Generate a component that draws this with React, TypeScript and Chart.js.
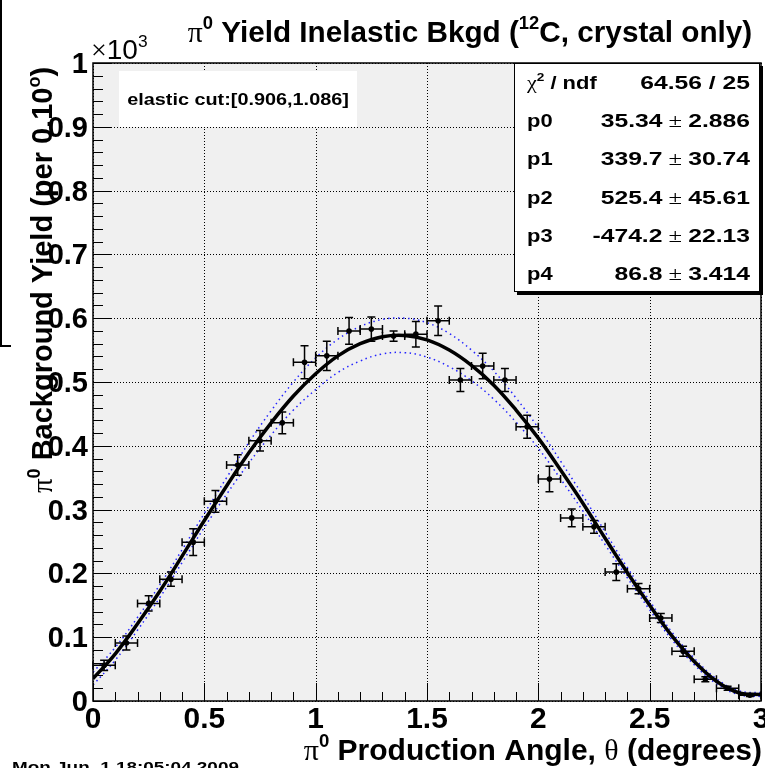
import React, { useEffect, useRef } from 'react';
import { Chart, registerables } from 'chart.js';
Chart.register(...registerables);

// ---- data (yield in units of 10^3) ----
const binCenters = [0.05, 0.15, 0.25, 0.35, 0.45, 0.55, 0.65, 0.75, 0.85, 0.95, 1.05, 1.15, 1.25, 1.35, 1.45, 1.55, 1.65, 1.75, 1.85, 1.95, 2.05, 2.15, 2.25, 2.35, 2.45, 2.55, 2.65, 2.75, 2.85, 2.95];
const yieldValues = [0.056, 0.091, 0.153, 0.191, 0.249, 0.313, 0.370, 0.408, 0.436, 0.531, 0.541, 0.580, 0.583, 0.572, 0.575, 0.596, 0.503, 0.525, 0.503, 0.430, 0.348, 0.287, 0.273, 0.202, 0.176, 0.130, 0.078, 0.034, 0.020, 0.009];
const yieldErrors = [0.008, 0.011, 0.012, 0.011, 0.021, 0.017, 0.016, 0.016, 0.017, 0.026, 0.023, 0.021, 0.019, 0.008, 0.020, 0.023, 0.018, 0.020, 0.018, 0.018, 0.020, 0.014, 0.010, 0.013, 0.008, 0.007, 0.008, 0.004, 0.003, 0.002];
const binHalfWidth = 0.05;

const fitX = [0, 0.1, 0.2, 0.3, 0.4, 0.5, 0.6, 0.7, 0.8, 0.9, 1.0, 1.1, 1.2, 1.3, 1.4, 1.5, 1.6, 1.7, 1.8, 1.9, 2.0, 2.1, 2.2, 2.3, 2.4, 2.5, 2.6, 2.7, 2.8, 2.9, 3.0];
const fitCurve = [0.035, 0.074, 0.121, 0.172, 0.227, 0.283, 0.337, 0.389, 0.436, 0.478, 0.513, 0.541, 0.560, 0.571, 0.573, 0.566, 0.550, 0.526, 0.495, 0.456, 0.412, 0.362, 0.310, 0.255, 0.201, 0.150, 0.102, 0.062, 0.031, 0.013, 0.010];
const bandUpper = [0.045, 0.084, 0.131, 0.182, 0.237, 0.294, 0.350, 0.405, 0.455, 0.500, 0.538, 0.567, 0.587, 0.598, 0.600, 0.593, 0.576, 0.550, 0.517, 0.475, 0.428, 0.376, 0.322, 0.265, 0.209, 0.157, 0.108, 0.067, 0.035, 0.016, 0.013];
const bandLower = [0.025, 0.064, 0.111, 0.162, 0.217, 0.272, 0.324, 0.373, 0.417, 0.456, 0.488, 0.515, 0.533, 0.544, 0.546, 0.539, 0.524, 0.502, 0.473, 0.437, 0.396, 0.348, 0.298, 0.245, 0.193, 0.143, 0.096, 0.057, 0.027, 0.010, 0.007];

const xTickValues = [0, 0.5, 1, 1.5, 2, 2.5, 3];
const xTickLabels = ['0', '0.5', '1', '1.5', '2', '2.5', '3'];
const yTickValues = [0, 0.1, 0.2, 0.3, 0.4, 0.5, 0.6, 0.7, 0.8, 0.9, 1];
const yTickLabels = ['0', '0.1', '0.2', '0.3', '0.4', '0.5', '0.6', '0.7', '0.8', '0.9', '1'];
const xMinorStep = 0.1;
const yMinorStep = 0.02;

const statsNames = ['χ2 / ndf', 'p0', 'p1', 'p2', 'p3', 'p4'];
const statsCentral = ['64.56 / 25', '35.34', '339.7', '525.4', '-474.2', '86.8'];
const statsErrors = ['', '2.886', '30.74', '45.61', '22.13', '3.414'];
const cutText = 'elastic cut:[0.906,1.086]';
const dateText = 'Mon Jun  1 18:05:04 2009';

type Seg = { t: string; sup?: boolean; sym?: boolean; normal?: boolean };

const SANS = '"Liberation Sans", Arial, sans-serif';
const SERIF = '"Liberation Serif", "DejaVu Serif", serif';

function segFont(s: Seg, size: number) {
  const sz = s.sup ? size * 0.62 : size;
  if (s.sym) return `${sz}px ${SERIF}`;
  if (s.normal) return `${sz}px ${SANS}`;
  return `bold ${sz}px ${SANS}`;
}

function drawRich(ctx: CanvasRenderingContext2D, segs: Seg[], x: number, y: number, size: number, align: 'left' | 'center' | 'right', sx = 1) {
  ctx.save();
  ctx.textBaseline = 'alphabetic';
  ctx.textAlign = 'left';
  let total = 0;
  const widths = segs.map((s) => {
    ctx.font = segFont(s, size);
    const w = ctx.measureText(s.t).width;
    total += w;
    return w;
  });
  let start = x;
  if (align === 'center') start = x - (total * sx) / 2;
  if (align === 'right') start = x - total * sx;
  ctx.translate(start, y);
  ctx.scale(sx, 1);
  let cx = 0;
  segs.forEach((s, i) => {
    ctx.font = segFont(s, size);
    ctx.fillText(s.t, cx, s.sup ? -size * 0.42 : 0);
    cx += widths[i];
  });
  ctx.restore();
}

const decorPlugin = {
  id: 'rootDecor',
  beforeDatasetsDraw(chart: any) {
    const { ctx, chartArea: a, scales } = chart;
    const xs = scales.x, ys = scales.y;
    ctx.save();
    ctx.fillStyle = '#f0f0f0';
    ctx.fillRect(a.left, a.top, a.right - a.left, a.bottom - a.top);
    // dotted grid
    ctx.strokeStyle = '#000';
    ctx.lineWidth = 1;
    ctx.setLineDash([1, 2]);
    xTickValues.forEach((v) => {
      const px = Math.round(xs.getPixelForValue(v)) + 0.5;
      ctx.beginPath(); ctx.moveTo(px, a.top); ctx.lineTo(px, a.bottom); ctx.stroke();
    });
    yTickValues.forEach((v) => {
      const py = Math.round(ys.getPixelForValue(v)) + 0.5;
      ctx.beginPath(); ctx.moveTo(a.left, py); ctx.lineTo(a.right, py); ctx.stroke();
    });
    ctx.restore();
  },
  afterDatasetsDraw(chart: any) {
    const { ctx, chartArea: a, scales } = chart;
    const xs = scales.x, ys = scales.y;
    ctx.save();
    // error bars
    ctx.strokeStyle = '#000';
    ctx.lineWidth = 1.5;
    ctx.setLineDash([]);
    binCenters.forEach((xv, i) => {
      const px = xs.getPixelForValue(xv);
      const py = ys.getPixelForValue(yieldValues[i]);
      const x0 = xs.getPixelForValue(xv - binHalfWidth);
      const x1 = xs.getPixelForValue(xv + binHalfWidth);
      const y0 = ys.getPixelForValue(yieldValues[i] - yieldErrors[i]);
      const y1 = ys.getPixelForValue(yieldValues[i] + yieldErrors[i]);
      const c = 4;
      ctx.beginPath();
      ctx.moveTo(x0, py); ctx.lineTo(x1, py);
      ctx.moveTo(x0, py - c); ctx.lineTo(x0, py + c);
      ctx.moveTo(x1, py - c); ctx.lineTo(x1, py + c);
      ctx.moveTo(px, y0); ctx.lineTo(px, y1);
      ctx.moveTo(px - c, y0); ctx.lineTo(px + c, y0);
      ctx.moveTo(px - c, y1); ctx.lineTo(px + c, y1);
      ctx.stroke();
    });
    // frame
    ctx.lineWidth = 1.5;
    ctx.strokeRect(a.left, a.top, a.right - a.left, a.bottom - a.top);
    // ticks
    ctx.lineWidth = 1;
    ctx.beginPath();
    for (let k = 0; k <= 30; k++) {
      const v = k * xMinorStep;
      const px = Math.round(xs.getPixelForValue(v)) + 0.5;
      const len = k % 5 === 0 ? 18 : 9;
      ctx.moveTo(px, a.bottom); ctx.lineTo(px, a.bottom - len);
    }
    for (let k = 0; k <= 50; k++) {
      const v = k * yMinorStep;
      const py = Math.round(ys.getPixelForValue(v)) + 0.5;
      const len = k % 5 === 0 ? 19 : 10;
      ctx.moveTo(a.left, py); ctx.lineTo(a.left + len, py);
    }
    ctx.stroke();
    // tick labels
    ctx.fillStyle = '#000';
    xTickValues.forEach((v, i) => {
      drawRich(ctx, [{ t: xTickLabels[i] }], xs.getPixelForValue(v), a.bottom + 27, 29, 'center', 1.03);
    });
    yTickValues.forEach((v, i) => {
      drawRich(ctx, [{ t: yTickLabels[i] }], a.left - 5, ys.getPixelForValue(v) + 10, 29, 'right', 1.0);
    });
    // exponent
    drawRich(ctx, [{ t: '×', sym: true }, { t: '10', normal: true }, { t: '3', sup: true, normal: true }], a.left - 2, a.top - 4, 28, 'left', 1.0);
    // elastic cut box
    ctx.fillStyle = '#fff';
    ctx.fillRect(119, 71, 238, 56);
    ctx.fillStyle = '#000';
    drawRich(ctx, [{ t: cutText }], 238, 105, 16, 'center', 1.24);
    // stats box
    const bx = 514, by = 63, bw = 246, bh = 229;
    ctx.fillStyle = '#000';
    ctx.fillRect(bx + 3, by + 3, bw, bh);
    ctx.fillStyle = '#fff';
    ctx.fillRect(bx, by, bw, bh);
    ctx.strokeStyle = '#000';
    ctx.lineWidth = 1;
    ctx.strokeRect(bx + 0.5, by + 0.5, bw - 1, bh - 1);
    ctx.fillStyle = '#000';
    statsNames.forEach((n, i) => {
      const yb = 89 + i * 38.2;
      const nameSegs: Seg[] = i === 0 ? [{ t: 'χ', sym: true }, { t: '2', sup: true }, { t: ' / ndf' }] : [{ t: n }];
      drawRich(ctx, nameSegs, 527, yb, 18, 'left', 1.22);
      const valSegs: Seg[] = statsErrors[i] ? [{ t: statsCentral[i] }, { t: ' ± ', sym: true }, { t: statsErrors[i] }] : [{ t: statsCentral[i] }];
      drawRich(ctx, valSegs, 750, yb, 18, 'right', 1.37);
    });
    // title
    drawRich(ctx, [{ t: 'π', sym: true }, { t: '0', sup: true }, { t: ' Yield Inelastic Bkgd (' }, { t: '12', sup: true }, { t: 'C, crystal only)' }], 470, 42, 30, 'center', 0.99);
    // x title
    drawRich(ctx, [{ t: 'π', sym: true }, { t: '0', sup: true }, { t: ' Production Angle, ' }, { t: 'θ', sym: true }, { t: ' (degrees)' }], 762, 760, 30, 'right', 1.0);
    // y title
    ctx.save();
    ctx.translate(52, 280);
    ctx.rotate(-Math.PI / 2);
    drawRich(ctx, [{ t: 'π', sym: true }, { t: '0', sup: true }, { t: ' Background Yield (per 0.10' }, { t: 'o', sup: true }, { t: ')' }], 0, 0, 29, 'center', 1.0);
    ctx.restore();
    // date
    drawRich(ctx, [{ t: dateText }], 12, 772, 15, 'left', 1.26);
    // stray frame edge at top-left
    ctx.strokeStyle = '#000';
    ctx.lineWidth = 2;
    ctx.beginPath();
    ctx.moveTo(1, 0); ctx.lineTo(1, 346); ctx.lineTo(11, 346);
    ctx.stroke();
    ctx.restore();
  },
};

export default function App() {
  const ref = useRef<HTMLCanvasElement | null>(null);
  useEffect(() => {
    document.body.style.margin = '0';
    const canvas = ref.current!;
    const chart = new Chart(canvas, {
      type: 'scatter',
      data: {
        datasets: [
          {
            label: 'fit',
            data: fitX.map((x, i) => ({ x, y: fitCurve[i] })),
            showLine: true,
            borderColor: '#000',
            borderWidth: 3.5,
            pointRadius: 0,
            tension: 0.4,
            order: 2,
          },
          {
            label: 'upper',
            data: fitX.map((x, i) => ({ x, y: bandUpper[i] })),
            showLine: true,
            borderColor: '#2424ff',
            borderWidth: 1.5,
            borderDash: [1.5, 3.5],
            pointRadius: 0,
            tension: 0.4,
            order: 3,
          },
          {
            label: 'lower',
            data: fitX.map((x, i) => ({ x, y: bandLower[i] })),
            showLine: true,
            borderColor: '#2424ff',
            borderWidth: 1.5,
            borderDash: [1.5, 3.5],
            pointRadius: 0,
            tension: 0.4,
            order: 3,
          },
          {
            label: 'data',
            data: binCenters.map((x, i) => ({ x, y: yieldValues[i] })),
            showLine: false,
            pointRadius: 2.8,
            pointBackgroundColor: '#000',
            pointBorderColor: '#000',
            pointBorderWidth: 0,
            order: 1,
          },
        ],
      },
      options: {
        animation: false,
        responsive: false,
        events: [],
        layout: { padding: { top: 63, right: 2, left: 0, bottom: 0 } },
        plugins: { legend: { display: false }, tooltip: { enabled: false }, title: { display: false } },
        scales: {
          x: {
            type: 'linear', min: 0, max: 3,
            grid: { display: false, drawTicks: false },
            border: { display: false },
            ticks: { display: false, stepSize: 0.5 },
            afterFit: (s: any) => { s.height = 67; s.paddingLeft = 0; s.paddingRight = 0; },
          },
          y: {
            type: 'linear', min: 0, max: 1,
            grid: { display: false, drawTicks: false },
            border: { display: false },
            ticks: { display: false, stepSize: 0.1 },
            afterFit: (s: any) => { s.width = 93; s.paddingTop = 0; s.paddingBottom = 0; },
          },
        },
      } as any,
      plugins: [decorPlugin],
    });
    return () => chart.destroy();
  }, []);
  return (
    <div style={{ position: 'absolute', left: 0, top: 0, width: 765, height: 768, background: '#fff' }}>
      <canvas ref={ref} width={765} height={768} style={{ display: 'block', width: 765, height: 768 }} />
    </div>
  );
}
